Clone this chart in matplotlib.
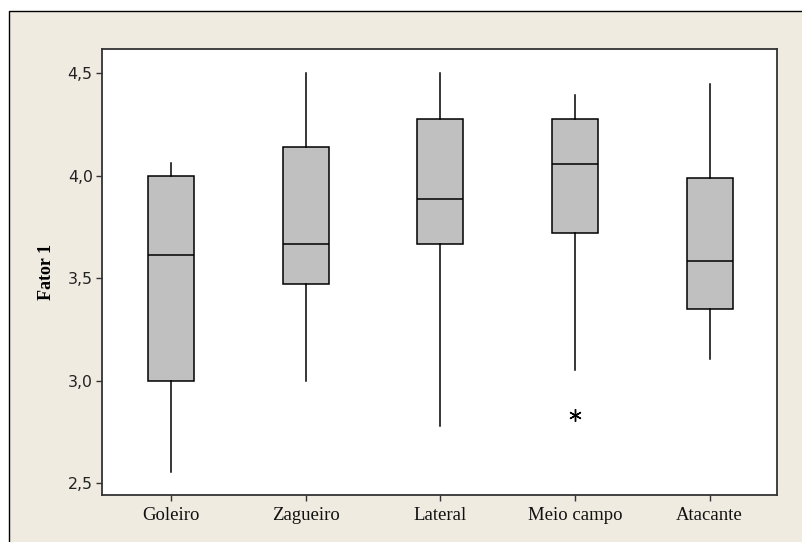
import matplotlib.pyplot as plt
from matplotlib.patches import Rectangle

# Summary statistics per position (quartiles, whiskers, outliers)
posicoes = ['Goleiro', 'Zagueiro', 'Lateral', 'Meio campo', 'Atacante']
minimo = [2.555, 3.0, 2.78, 3.05, 3.105]
q1 = [3.0, 3.47, 3.667, 3.721, 3.347]
mediana = [3.612, 3.667, 3.887, 4.056, 3.584]
q3 = [4.0, 4.14, 4.274, 4.274, 3.986]
maximo = [4.06, 4.5, 4.5, 4.393, 4.446]
outliers = [[], [], [], [2.832], []]

y_ticks = [2.5, 3.0, 3.5, 4.0, 4.5]
y_tick_labels = ['2,5', '3,0', '3,5', '4,0', '4,5']

bege = '#efebe1'

fig = plt.figure(figsize=(8.02, 5.42), dpi=100, facecolor='white')

# beige panel with black frame behind the plot
fig.patches.append(Rectangle((9.2 / 802, -0.2), 2, 1.2 - 11 / 542,
                             transform=fig.transFigure, facecolor=bege,
                             edgecolor='black', linewidth=1.0, zorder=-10))

ax = fig.add_axes([102.3 / 802, 1 - 495 / 542, 674.7 / 802, 445.7 / 542])
ax.set_zorder(1)
ax.set_facecolor('white')

stats = []
for i, nome in enumerate(posicoes):
    stats.append({
        'label': nome,
        'whislo': minimo[i],
        'q1': q1[i],
        'med': mediana[i],
        'q3': q3[i],
        'whishi': maximo[i],
        'fliers': outliers[i],
    })

ax.bxp(stats, positions=range(1, len(posicoes) + 1), widths=0.34,
       patch_artist=True, showcaps=False,
       boxprops=dict(facecolor='#c0c0c0', edgecolor='black', linewidth=1.1),
       medianprops=dict(color='black', linewidth=1.1),
       whiskerprops=dict(color='black', linewidth=1.1),
       flierprops=dict(marker=(6, 2, 0), markersize=9, markeredgecolor='black',
                       markeredgewidth=1.0, linestyle='none'))

ax.set_xlim(0.49, 5.5)
ax.set_ylim(2.4415, 4.6156)

ax.set_yticks(y_ticks)
ax.set_yticklabels(y_tick_labels, fontsize=11.3, family='DejaVu Sans', color='#222222')
ax.set_xticks(range(1, len(posicoes) + 1))
ax.set_xticklabels(posicoes, fontsize=13.5, family='Liberation Serif', color='#111111')
ax.tick_params(axis='y', direction='out', length=4, width=1, pad=3, color='#333333')
ax.tick_params(axis='x', direction='out', length=4, width=1, pad=5, color='#333333')

for sp in ax.spines.values():
    sp.set_color('#333333')
    sp.set_linewidth(1.3)

ax.set_ylabel('Fator 1', fontsize=13, family='Liberation Serif', fontweight='bold')
ax.yaxis.set_label_coords(-0.07, 0.5)

fig.savefig('out.png', dpi=100, facecolor=fig.get_facecolor())
